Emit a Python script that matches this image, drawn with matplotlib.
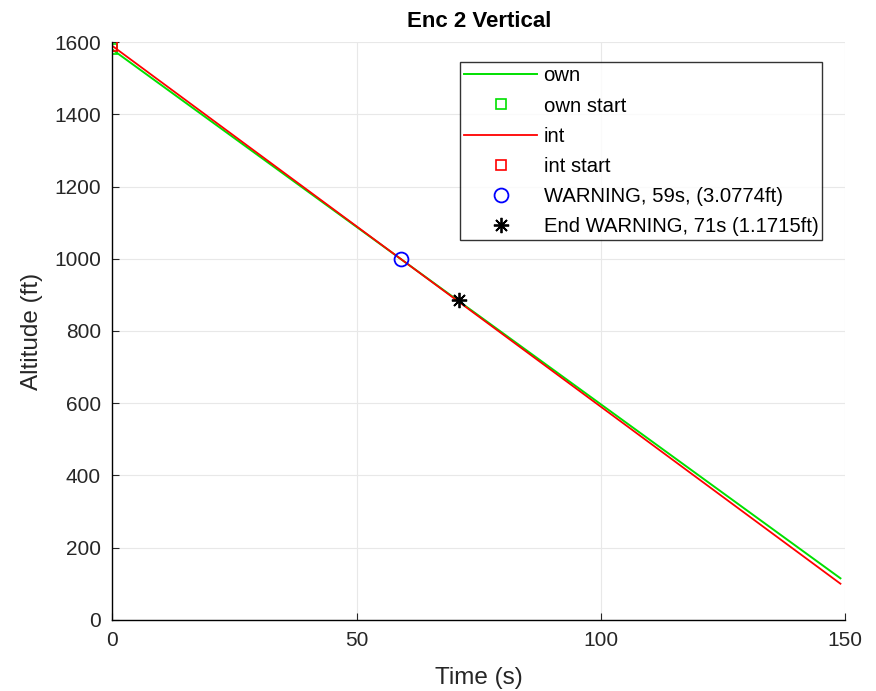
import matplotlib
matplotlib.use("Agg")
import matplotlib.pyplot as plt

plt.rcParams["font.family"] = ["Liberation Sans", "DejaVu Sans"]

# altitude tracks (straight descents)
own_t = [0, 149]
own_alt = [1580, 115]
int_t = [0, 149]
int_alt = [1590, 100]

warn_t, warn_alt = 59, 1000
end_t, end_alt = 71, 885

fig = plt.figure(figsize=(8.76, 6.91), dpi=100)
ax = fig.add_axes([0.128, 0.103, 0.837, 0.836])

ax.plot(own_t, own_alt, color="#00e000", lw=1.4, label="own")
ax.plot(own_t[0], own_alt[0], ls="none", marker="s", ms=7, mfc="none",
        mec="#00e000", mew=1.2, label="own start")
ax.plot(int_t, int_alt, color="#ff0000", lw=1.3, label="int")
ax.plot(int_t[0], int_alt[0], ls="none", marker="s", ms=7, mfc="none",
        mec="#ff0000", mew=1.2, label="int start")
ax.plot(warn_t, warn_alt, ls="none", marker="o", ms=10, mfc="none",
        mec="#0000ff", mew=1.3, label="WARNING, 59s, (3.0774ft)")
ax.plot(end_t, end_alt, ls="none", marker=(8, 2, 0), ms=11, color="black",
        mew=1.3, label="End WARNING, 71s (1.1715ft)")

ax.set_xlim(0, 150)
ax.set_ylim(0, 1600)
ax.set_xticks([0, 50, 100, 150])
ax.set_yticks(range(0, 1601, 200))
ax.grid(True, color="#e8e8e8", lw=0.8)
ax.set_axisbelow(True)
for s in ("top", "right"):
    ax.spines[s].set_visible(False)
for s in ("left", "bottom"):
    ax.spines[s].set_linewidth(1.0)
ax.tick_params(labelsize=15, direction="in", length=5, colors="#262626")
ax.tick_params(axis="x", pad=8)
ax.tick_params(axis="y", pad=8)

ax.set_xlabel("Time (s)", fontsize=17.5, color="#262626", labelpad=12)
ax.set_ylabel("Altitude (ft)", fontsize=17.5, color="#262626", labelpad=8)
ax.set_title("Enc 2 Vertical", fontsize=16, fontweight="bold", pad=11)

leg = ax.legend(loc="upper right", bbox_to_anchor=(0.9686, 0.965), fontsize=14.6,
                frameon=True, fancybox=False, handlelength=3.6,
                labelspacing=0.55, borderpad=0.2, handletextpad=0.3,
                borderaxespad=0)
leg.get_frame().set_edgecolor("black")
leg.get_frame().set_linewidth(1.0)

fig.savefig("out.png", dpi=100)
